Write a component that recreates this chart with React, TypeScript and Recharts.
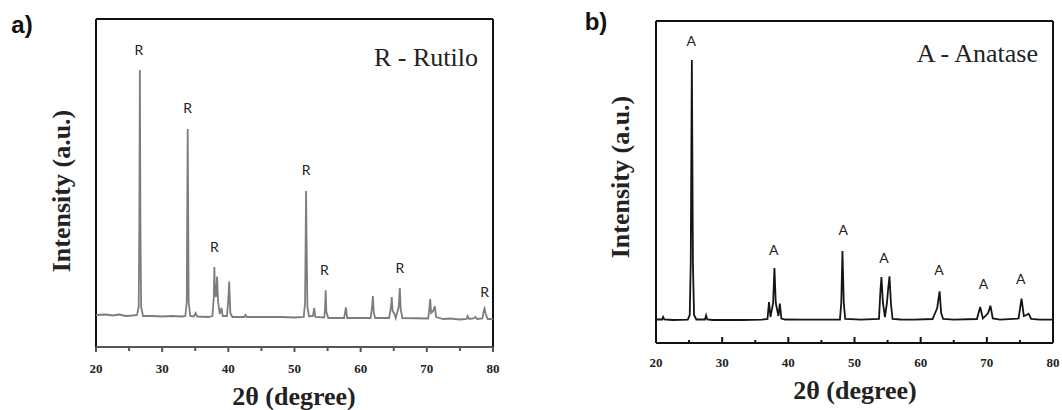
import React from 'react';
import { ComposedChart, Line, XAxis, YAxis, ReferenceLine, ReferenceDot } from 'recharts';

// 2θ / intensity pairs (intensity in arbitrary units)
const rutilePattern: number[][] = [
  [20, 32], [21.5, 32.5], [22.5, 31.5], [23.5, 32.5], [24.5, 31], [25.5, 31.5], [26.2, 32],
  [26.45, 40], [26.55, 120], [26.63, 277], [26.72, 120], [26.82, 40], [27.1, 31],
  [28.5, 31], [30, 30.5], [31.5, 31], [33, 30.5], [33.5, 31],
  [33.72, 45], [33.8, 150], [33.86, 218], [33.93, 140], [34, 45], [34.25, 31],
  [34.8, 30.5], [35.05, 34], [35.3, 30.5], [37, 30], [37.6, 31],
  [37.8, 50], [37.89, 80], [37.97, 55], [38.12, 50], [38.3, 70.5], [38.45, 45], [38.7, 33],
  [38.96, 39], [39.15, 31], [39.8, 31], [40.02, 50], [40.13, 65.5], [40.3, 34], [40.6, 30],
  [42.4, 30], [42.6, 32], [42.8, 30], [45, 30], [48, 30], [50, 29.5], [51.4, 30],
  [51.6, 45], [51.7, 120], [51.75, 156], [51.82, 110], [51.95, 40], [52.2, 30.5],
  [52.8, 31], [52.98, 39], [53.15, 30], [54.5, 29.5], [54.63, 40], [54.71, 56.6], [54.82, 35], [55.1, 29],
  [57.5, 29], [57.77, 39.7], [57.95, 29], [61.5, 29], [61.72, 40], [61.85, 51], [61.98, 34], [62.2, 29],
  [64.3, 29], [64.58, 40], [64.7, 50], [64.82, 36], [65.1, 33], [65.3, 29],
  [65.75, 40], [65.92, 59], [66.05, 38], [66.3, 29], [70.2, 28.5], [70.4, 40], [70.51, 48],
  [70.65, 34], [70.95, 36], [71.22, 40.7], [71.4, 30], [72.5, 28], [73.5, 28.5], [75, 27.5],
  [76, 28], [76.17, 31], [76.4, 28], [77, 28.5], [77.34, 30], [77.6, 28], [78.4, 28.5],
  [78.6, 36], [78.72, 38.4], [78.9, 33], [79.2, 28], [80, 28],
];

const anatasePattern: number[][] = [
  [20, 23.5], [20.9, 23.5], [21.07, 26], [21.25, 23.5], [22.5, 23], [24.8, 23.3],
  [25.1, 28], [25.25, 80], [25.42, 283], [25.58, 80], [25.75, 28], [26.1, 23.5],
  [27.4, 23.5], [27.57, 27.7], [27.75, 23.5], [28.5, 23], [30, 23], [33, 23], [36, 23.3],
  [36.85, 24], [37.08, 41], [37.3, 26], [37.7, 40], [37.9, 75], [38.1, 40], [38.5, 27],
  [38.72, 39.4], [38.95, 24.5], [39.5, 23.5], [42, 23.3], [45, 23.3], [47.8, 23.5],
  [48, 40], [48.18, 92], [48.38, 40], [48.6, 24], [51, 23.3], [53.7, 24], [53.9, 50],
  [54.07, 66], [54.3, 40], [54.6, 26], [54.9, 40], [55.1, 55], [55.29, 66.7], [55.5, 40],
  [55.75, 24], [57, 23.5], [59, 23.3], [61.8, 24], [62.25, 31], [62.5, 35], [62.86, 51.7],
  [63.1, 30], [63.4, 24], [65, 23.3], [68.5, 24], [69, 36], [69.4, 24.5], [70.2, 30],
  [70.54, 37.3], [70.9, 24.5], [72, 23.3], [74.8, 24.5], [75.24, 44.3], [75.6, 27],
  [76, 28], [76.32, 29.3], [76.7, 24], [78, 23.3], [80, 23.3],
];

// peak marker positions [2θ, intensity]
const rutileMarks: number[][] = [
  [26.47, 297], [33.86, 239], [37.89, 100], [51.75, 177], [54.5, 77], [65.92, 79], [78.72, 55],
];
const anataseMarks: number[][] = [
  [25.32, 302], [37.8, 93], [48.29, 113], [54.47, 85], [62.76, 73], [69.5, 59], [75.14, 64],
];

const thetaTicks = [20, 25, 30, 35, 40, 45, 50, 55, 60, 65, 70, 75, 80];

const serif = '"Liberation Serif", "Times New Roman", serif';
const sans = 'Lato, "Liberation Sans", sans-serif';

const toRows = (pts: number[][]) => pts.map(([x, y]) => ({ x, y }));

const TickA = (props: any) => {
  const { x, y, payload } = props;
  const major = payload.value % 10 === 0;
  return (
    <g>
      <line x1={x} x2={x} y1={y} y2={y + (major ? 5 : 4)} stroke="#555" strokeWidth={2} />
      {major && (
        <text x={x} y={y + 21} textAnchor="middle" dominantBaseline="central"
          fontFamily={serif} fontWeight={700} fontSize={13} fill="#222">
          {payload.value}
        </text>
      )}
    </g>
  );
};

const TickB = (props: any) => {
  const { x, y, payload } = props;
  const major = payload.value % 10 === 0;
  return (
    <g>
      <line x1={x} x2={x} y1={y} y2={y - (major ? 6 : 3)} stroke="#111" strokeWidth={2} />
      {major && (
        <text x={x} y={y + 19} textAnchor="middle" dominantBaseline="central"
          fontFamily={serif} fontWeight={700} fontSize={13} fill="#222">
          {payload.value}
        </text>
      )}
    </g>
  );
};

const markLabel = (t: string) => ({ value: t, position: 'center' as const, fill: '#222', fontSize: 14, fontFamily: sans });

const titleProps = { fontFamily: serif, fontWeight: 700, fontSize: 26, fill: '#222' };

export default function App() {
  return (
    <div style={{ position: 'absolute', left: 0, top: 0, width: 1062, height: 410, background: '#fff' }}>
      {/* a) rutile */}
      <div style={{ position: 'absolute', left: 0, top: 0 }}>
        <ComposedChart width={530} height={410} margin={{ top: 19, left: 96, right: 37, bottom: 33 }}>
          <XAxis type="number" dataKey="x" domain={[20, 80]} ticks={thetaTicks} allowDataOverflow
            height={30} tickSize={0} tickMargin={0} tickLine={false} tick={<TickA />}
            axisLine={{ stroke: '#555', strokeWidth: 2 }} interval={0} />
          <YAxis type="number" dataKey="y" domain={[0, 328]} hide allowDataOverflow />
          <ReferenceLine x={20} stroke="#111" strokeWidth={2} />
          <ReferenceLine x={80} stroke="#111" strokeWidth={2} />
          <ReferenceLine y={328} stroke="#111" strokeWidth={2} />
          <Line data={toRows(rutilePattern)} dataKey="y" type="linear" stroke="#7d7d7d" strokeWidth={1.8}
            dot={false} activeDot={false} isAnimationActive={false} />
          {rutileMarks.map(([x, y], i) => (
            <ReferenceDot key={i} x={x} y={y} r={0} fill="none" stroke="none" label={markLabel('R')} />
          ))}
        </ComposedChart>
      </div>

      {/* b) anatase */}
      <div style={{ position: 'absolute', left: 530, top: 0 }}>
        <ComposedChart width={532} height={410} margin={{ top: 21, left: 126, right: 9, bottom: 37 }}>
          <XAxis type="number" dataKey="x" domain={[20, 80]} ticks={thetaTicks} allowDataOverflow
            height={30} tickSize={0} tickMargin={0} tickLine={false} tick={<TickB />}
            axisLine={{ stroke: '#111', strokeWidth: 2 }} interval={0} />
          <YAxis type="number" dataKey="y" domain={[0, 322]} hide allowDataOverflow />
          <ReferenceLine x={20} stroke="#111" strokeWidth={2} />
          <ReferenceLine x={80} stroke="#111" strokeWidth={2} />
          <ReferenceLine y={322} stroke="#111" strokeWidth={2} />
          <Line data={toRows(anatasePattern)} dataKey="y" type="linear" stroke="#151515" strokeWidth={1.8}
            dot={false} activeDot={false} isAnimationActive={false} />
          {anataseMarks.map(([x, y], i) => (
            <ReferenceDot key={i} x={x} y={y} r={0} fill="none" stroke="none" label={markLabel('A')} />
          ))}
        </ComposedChart>
      </div>

      {/* titles and panel letters */}
      <svg width={1062} height={410} style={{ position: 'absolute', left: 0, top: 0, pointerEvents: 'none' }}>
        <text x={22} y={24} textAnchor="middle" dominantBaseline="central" fontFamily={'"Liberation Sans", Arial, sans-serif'}
          fontWeight="bold" fontSize={24} fill="#111">a)</text>
        <text x={596} y={21} textAnchor="middle" dominantBaseline="central" fontFamily={'"Liberation Sans", Arial, sans-serif'}
          fontWeight="bold" fontSize={24} fill="#111">b)</text>

        <text x={478} y={57} textAnchor="end" dominantBaseline="central" fontFamily={serif} fontSize={26} fill="#222">R - Rutilo</text>
        <text x={1038} y={53} textAnchor="end" dominantBaseline="central" fontFamily={serif} fontSize={26} fill="#222">A - Anatase</text>

        <text transform="translate(61,191) rotate(-90)" textAnchor="middle" dominantBaseline="central" {...titleProps}>
          Intensity (a.u.)
        </text>
        <text transform="translate(620,177) rotate(-90)" textAnchor="middle" dominantBaseline="central" {...titleProps}>
          Intensity (a.u.)
        </text>

        <text x={294} y={396} textAnchor="middle" dominantBaseline="central" {...titleProps}>2θ (degree)</text>
        <text x={855} y={390} textAnchor="middle" dominantBaseline="central" {...titleProps}>2θ (degree)</text>
      </svg>
    </div>
  );
}
